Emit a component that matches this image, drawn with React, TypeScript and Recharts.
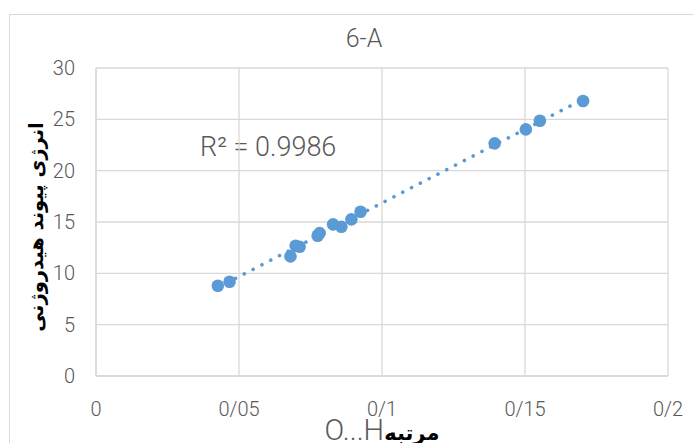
import { ScatterChart, Scatter, XAxis, YAxis, CartesianGrid } from 'recharts';

// O...H bond order vs H-bond energy
const bondOrder = [0.0426, 0.0467, 0.068, 0.0698, 0.0712, 0.0775, 0.0782, 0.0829, 0.0858, 0.0893, 0.0925, 0.1394, 0.1503, 0.1552, 0.1703];
const hbEnergy = [8.79, 9.18, 11.65, 12.69, 12.59, 13.66, 13.92, 14.77, 14.54, 15.26, 16.0, 22.66, 24.02, 24.86, 26.78];

const xTicks = [0, 0.05, 0.1, 0.15, 0.2];
const xTickLabels = ['0', '0/05', '0/1', '0/15', '0/2'];
const yTicks = [0, 5, 10, 15, 20, 25, 30];

const title = '6-A';
const rSquared = 'R² = 0.9986';
const yLabel = 'انرژی پیوند هیدروژنی';
const xLabelLatin = 'O...H';
const xLabelPersian = 'مرتبه';

const BLUE = '#5B9BD5';
const GRID = '#d9d9d9';
const TEXT = '#595959';
const FONT = "Roboto, 'Open Sans', sans-serif";

const points = bondOrder.map((x, i) => ({ x, y: hbEnergy[i] }));

function Dot(props: { cx?: number; cy?: number }) {
  if (props.cx == null || props.cy == null) return null;
  return <circle cx={props.cx} cy={props.cy} r={6.3} fill={BLUE} />;
}

export default function App() {
  const tickStyle = { fill: TEXT, fontSize: 20, fontFamily: FONT, fontWeight: 300 };
  return (
    <div style={{ position: 'fixed', top: 0, left: 0, width: 694, height: 443, overflow: 'hidden', background: '#fff' }}>
      <div style={{ position: 'absolute', left: 9, top: 14, width: 720, height: 460, border: `1px solid ${GRID}` }} />
      <div style={{
        position: 'absolute', left: 0, width: 728, top: 24, textAlign: 'center',
        fontFamily: FONT, fontWeight: 300, fontSize: 25, color: TEXT,
      }}>{title}</div>
      <div style={{
        position: 'absolute', left: 200, top: 131, fontFamily: FONT, fontWeight: 300,
        fontSize: 27, color: TEXT, whiteSpace: 'nowrap',
      }}>{rSquared}</div>
      <div style={{ position: 'absolute', left: 0, top: 0 }}>
        <ScatterChart width={694} height={443} margin={{ top: 68, right: 26, bottom: 27, left: 0 }}>
          <CartesianGrid stroke={GRID} strokeWidth={1.3} />
          <XAxis
            type="number"
            dataKey="x"
            domain={[0, 0.2]}
            ticks={xTicks}
            tickFormatter={(v: number) => xTickLabels[xTicks.indexOf(v)] ?? String(v)}
            height={40}
            axisLine={{ stroke: GRID, strokeWidth: 1.3 }}
            tickLine={false}
            tickSize={0}
            tickMargin={26}
            tick={tickStyle}
            interval={0}
            label={{
              content: (p: any) => {
                const vb = p.viewBox;
                return (
                  <text x={vb.x + vb.width / 2} y={440} textAnchor="middle" direction="ltr">
                    <tspan fill={TEXT} fontSize={29} fontFamily={FONT} fontWeight={300}>{xLabelLatin}</tspan>
                    <tspan fill="#000" fontSize={21} fontWeight="bold" fontFamily="'DejaVu Sans', sans-serif">{xLabelPersian}</tspan>
                  </text>
                );
              },
            }}
          />
          <YAxis
            type="number"
            dataKey="y"
            domain={[0, 30]}
            ticks={yTicks}
            width={96}
            axisLine={{ stroke: GRID, strokeWidth: 1.3 }}
            tickLine={false}
            tickSize={0}
            tickMargin={21}
            tick={tickStyle}
            interval={0}
            label={{
              content: (p: any) => {
                const vb = p.viewBox;
                const cx = 36;
                const cy = vb.y + vb.height / 2 + 5;
                return (
                  <text
                    x={cx}
                    y={cy}
                    textAnchor="middle"
                    dominantBaseline="central"
                    transform={`rotate(-90 ${cx} ${cy})`}
                    fill="#000"
                    fontSize={19.5}
                    fontWeight="bold"
                    fontFamily="'DejaVu Sans', sans-serif"
                  >{yLabel}</text>
                );
              },
            }}
          />
          <Scatter
            data={points}
            fill={BLUE}
            isAnimationActive={false}
            line={{ stroke: BLUE, strokeWidth: 3.6, strokeDasharray: '0.1 9.8', strokeLinecap: 'round' }}
            lineType="fitting"
            shape={<Dot />}
          />
        </ScatterChart>
      </div>
    </div>
  );
}
